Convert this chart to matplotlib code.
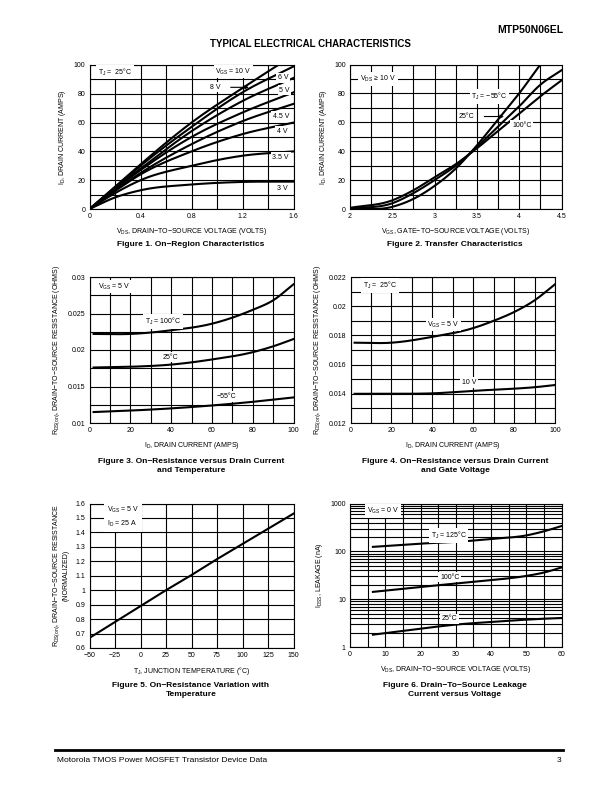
import numpy as np
import matplotlib
matplotlib.use("Agg")
import matplotlib.pyplot as plt

plt.rcParams['font.family'] = ['Liberation Sans', 'DejaVu Sans']
plt.rcParams['mathtext.fontset'] = 'custom'
plt.rcParams['mathtext.rm'] = 'Liberation Sans'
plt.rcParams['mathtext.it'] = 'Liberation Sans'
plt.rcParams['mathtext.default'] = 'regular'

# Figure 1: on-region characteristics (VDS in volts, ID in amps)
vds_pts = [0, 0.2, 0.4, 0.8, 1.2, 1.6]
id_3v = [0, 8, 13, 17, 18.8, 19]
id_35v = [0, 11, 20, 30, 37, 40]
id_4v = [0, 12.5, 24, 40, 52, 60]
id_45v = [0, 13, 25, 45, 61, 73]
id_5v = [0, 14, 27, 50, 67, 81]
id_6v = [0, 14.5, 28, 54, 75, 91]
id_8v = [0, 15, 30, 57, 81, 99]
vds_10v = [0, 0.2, 0.4, 0.8, 1.2, 1.48]
id_10v = [0, 15.5, 31, 60, 84, 100]

# Figure 2: transfer characteristics
vgs_m55 = [2, 2.5, 2.75, 3, 3.25, 3.5, 3.75, 4, 4.25]
id_m55 = [0, 1.5, 7, 16, 28, 44, 62, 80, 100]
vgs_t = [2, 2.5, 2.75, 3, 3.25, 3.5, 3.75, 4, 4.25, 4.5]
id_25 = [0.3, 4, 11, 20, 30, 43, 57, 71, 86, 96]
id_100 = [0.8, 6, 13, 22, 31, 42, 54, 66, 78, 89]

# Figure 3: RDS(on) vs ID and temperature
id_f3 = [2, 20, 40, 60, 80, 90, 100]
rds_100c = [0.0222, 0.0222, 0.0227, 0.0236, 0.0255, 0.0268, 0.029]
rds_25c = [0.0176, 0.0177, 0.0180, 0.0187, 0.0197, 0.0205, 0.0215]
rds_m55c = [0.0115, 0.0117, 0.0120, 0.0124, 0.0129, 0.0132, 0.0135]

# Figure 4: RDS(on) vs ID and gate voltage
id_f4 = [2, 20, 40, 60, 70, 80, 90, 100]
rds_5v = [0.0175, 0.0175, 0.0179, 0.0185, 0.0190, 0.0196, 0.0204, 0.0215]
rds_10v = [0.0140, 0.0140, 0.01403, 0.0142, 0.01428, 0.01435, 0.01445, 0.0146]

# Figure 5: normalized RDS(on) vs temperature
tj = [-50, -25, 0, 25, 50, 75, 100, 125, 150]
rds_norm = [0.67, 0.78, 0.89, 1.0, 1.105, 1.215, 1.32, 1.425, 1.53]

# Figure 6: IDSS leakage vs VDS
vds_f6 = [6.5, 20, 30, 40, 50, 55, 60]
idss_125 = [124, 145, 157, 182, 215, 262, 338]
idss_100 = [14.2, 18, 21.2, 24.9, 30.6, 36, 46]
idss_25 = [1.81, 2.42, 2.94, 3.34, 3.73, 3.9, 4.04]

W, H = 612, 792
fig = plt.figure(figsize=(W / 100, H / 100), dpi=100)


def box(l, r, t, b):
    return [l / W, 1 - b / H, (r - l) / W, (b - t) / H]


def smooth(x, y, n=200):
    # cubic hermite through the read points, just to draw a smooth curve
    x = np.asarray(x, float)
    y = np.asarray(y, float)
    m = np.gradient(y, x)
    xs = np.linspace(x[0], x[-1], n)
    i = np.clip(np.searchsorted(x, xs) - 1, 0, len(x) - 2)
    h = x[i + 1] - x[i]
    t = (xs - x[i]) / h
    ys = ((2 * t**3 - 3 * t**2 + 1) * y[i] + (t**3 - 2 * t**2 + t) * h * m[i]
          + (-2 * t**3 + 3 * t**2) * y[i + 1] + (t**3 - t**2) * h * m[i + 1])
    return xs, ys


def setup(ax, xlim, ylim, xgrid, ygrid, xticks, yticks, xtl=None, ytl=None):
    ax.set_xlim(*xlim)
    ax.set_ylim(*ylim)
    for x in xgrid:
        ax.axvline(x, color='black', lw=0.8, zorder=1)
    for y in ygrid:
        ax.axhline(y, color='black', lw=0.8, zorder=1)
    ax.set_xticks(xticks)
    ax.set_yticks(yticks)
    if xtl is not None:
        ax.set_xticklabels(xtl)
    if ytl is not None:
        ax.set_yticklabels(ytl)
    ax.tick_params(length=0, labelsize=5, pad=3)
    for s in ax.spines.values():
        s.set_linewidth(0.8)


def lbl(ax, x, y, s, ha='center', fs=5):
    ax.text(x, y, s, ha=ha, va='center', fontsize=fs, zorder=5,
            bbox=dict(facecolor='white', edgecolor='none', pad=1.2))


def arrow_lbl(ax, s, xy, xytext):
    ax.annotate(s, xy=xy, xytext=xytext, fontsize=5, va='center', ha='center',
                arrowprops=dict(arrowstyle='-|>', color='black', lw=0.8, shrinkA=6, shrinkB=0,
                                mutation_scale=5), zorder=5,
                bbox=dict(facecolor='white', edgecolor='none', pad=1))


LW = 1.5

# ---- Figure 1
ax1 = fig.add_axes(box(89.5, 293.5, 65, 209))
setup(ax1, (0, 1.6), (0, 100), np.arange(0, 1.61, 0.2), range(0, 101, 10),
      [0, 0.4, 0.8, 1.2, 1.6], range(0, 101, 20), ['0', '0.4', '0.8', '1.2', '1.6'])
for ys in [id_3v, id_35v, id_4v, id_45v, id_5v, id_6v, id_8v]:
    ax1.plot(*smooth(vds_pts, ys), color='black', lw=LW, zorder=3)
ax1.plot(*smooth(vds_10v, id_10v), color='black', lw=LW, zorder=3)
lbl(ax1, 0.2, 95, 'T$_J$ =  25°C')
lbl(ax1, 1.13, 95.5, 'V$_{GS}$ = 10 V')
arrow_lbl(ax1, '8 V', (1.25, 84.5), (0.99, 84.5))
lbl(ax1, 1.52, 91, '6 V')
lbl(ax1, 1.53, 82.5, '5 V')
lbl(ax1, 1.5, 64.5, '4.5 V')
lbl(ax1, 1.51, 54, '4 V')
lbl(ax1, 1.5, 36, '3.5 V')
lbl(ax1, 1.51, 14.5, '3 V')
ax1.set_xlabel('V$_{DS}$, DRAIN−TO−SOURCE VOLTAGE (VOLTS)', fontsize=5, labelpad=4)
ax1.set_ylabel('I$_D$, DRAIN CURRENT (AMPS)', fontsize=5, labelpad=4)

# ---- Figure 2
ax2 = fig.add_axes(box(350, 561.5, 64.5, 209))
setup(ax2, (2, 4.5), (0, 100), np.arange(2, 4.51, 0.25), range(0, 101, 10),
      [2, 2.5, 3, 3.5, 4, 4.5], range(0, 101, 20), ['2', '2.5', '3', '3.5', '4', '4.5'])
for xv, yv in [(vgs_m55, id_m55), (vgs_t, id_25), (vgs_t, id_100)]:
    ax2.plot(*smooth(xv, yv), color='black', lw=LW, zorder=3)
lbl(ax2, 2.33, 90, 'V$_{DS}$ ≥ 10 V')
lbl(ax2, 3.65, 78, 'T$_J$ = −55°C')
arrow_lbl(ax2, '25°C', (3.82, 64), (3.38, 64))
lbl(ax2, 4.03, 58, '100°C')
ax2.set_xlabel('V$_{GS}$, GATE−TO−SOURCE VOLTAGE (VOLTS)', fontsize=5, labelpad=4)
ax2.set_ylabel('I$_D$, DRAIN CURRENT (AMPS)', fontsize=5, labelpad=4)

# ---- Figure 3
ax3 = fig.add_axes(box(89.5, 293.5, 277, 423))
setup(ax3, (0, 100), (0.01, 0.03), range(0, 101, 10), np.arange(0.01, 0.0301, 0.0025),
      range(0, 101, 20), [0.01, 0.015, 0.02, 0.025, 0.03],
      None, ['0.01', '0.015', '0.02', '0.025', '0.03'])
for yv in [rds_100c, rds_25c, rds_m55c]:
    ax3.plot(*smooth(id_f3, yv), color='black', lw=LW, zorder=3)
lbl(ax3, 12, 0.0287, 'V$_{GS}$ = 5 V')
lbl(ax3, 36, 0.0239, 'T$_J$ = 100°C')
lbl(ax3, 39.5, 0.0190, '25°C')
lbl(ax3, 67, 0.01364, '−55°C')
ax3.set_xlabel('I$_D$, DRAIN CURRENT (AMPS)', fontsize=5, labelpad=4)
ax3.set_ylabel('R$_{DS(on)}$, DRAIN−TO−SOURCE RESISTANCE (OHMS)', fontsize=5, labelpad=4)

# ---- Figure 4
ax4 = fig.add_axes(box(350.5, 555, 277, 423))
setup(ax4, (0, 100), (0.012, 0.022), range(0, 101, 10), np.arange(0.012, 0.02201, 0.001),
      range(0, 101, 20), [0.012, 0.014, 0.016, 0.018, 0.02, 0.022],
      None, ['0.012', '0.014', '0.016', '0.018', '0.02', '0.022'])
for yv in [rds_5v, rds_10v]:
    ax4.plot(*smooth(id_f4, yv), color='black', lw=LW, zorder=3)
lbl(ax4, 14.5, 0.0214, 'T$_J$ =  25°C')
lbl(ax4, 45.5, 0.01874, 'V$_{GS}$ = 5 V')
lbl(ax4, 58, 0.01478, '10 V')
ax4.set_xlabel('I$_D$, DRAIN CURRENT (AMPS)', fontsize=5, labelpad=4)
ax4.set_ylabel('R$_{DS(on)}$, DRAIN−TO−SOURCE RESISTANCE (OHMS)', fontsize=5, labelpad=4)

# ---- Figure 5
ax5 = fig.add_axes(box(89.5, 293.5, 503.5, 648))
setup(ax5, (-50, 150), (0.6, 1.6), range(-50, 151, 25), np.arange(0.6, 1.601, 0.1),
      range(-50, 151, 25), np.arange(0.6, 1.601, 0.1),
      ['−50', '−25', '0', '25', '50', '75', '100', '125', '150'],
      ['0.6', '0.7', '0.8', '0.9', '1', '1.1', '1.2', '1.3', '1.4', '1.5', '1.6'])
ax5.plot(tj, rds_norm, color='black', lw=LW, zorder=3)
ax5.text(-33, 1.508, 'V$_{GS}$ = 5 V\nI$_D$ = 25 A', ha='left', va='center', fontsize=5,
         linespacing=1.6, zorder=5, bbox=dict(facecolor='white', edgecolor='none', pad=2))
ax5.set_xlabel('T$_J$, JUNCTION TEMPERATURE (°C)', fontsize=5, labelpad=4)
ax5.set_ylabel('R$_{DS(on)}$, DRAIN−TO−SOURCE RESISTANCE\n(NORMALIZED)', fontsize=5, labelpad=4)

# ---- Figure 6
ax6 = fig.add_axes(box(350, 561.5, 503.5, 647))
ax6.set_yscale('log')
ygrid6 = [m * 10 ** d for d in range(0, 3) for m in range(1, 10)] + [1000]
setup(ax6, (0, 60), (1, 1000), range(0, 61, 5), ygrid6,
      range(0, 61, 10), [1, 10, 100, 1000], None, ['1', '10', '100', '1000'])
ax6.minorticks_off()
for yv in [idss_125, idss_100, idss_25]:
    xs, ly = smooth(vds_f6, np.log10(yv))
    ax6.plot(xs, 10 ** ly, color='black', lw=LW, zorder=3)
lbl(ax6, 9.4, 690, 'V$_{GS}$ = 0 V')
lbl(ax6, 28, 215, 'T$_J$ = 125°C')
lbl(ax6, 28.3, 29, '100°C')
lbl(ax6, 28.3, 3.9, '25°C')
ax6.set_xlabel('V$_{DS}$, DRAIN−TO−SOURCE VOLTAGE (VOLTS)', fontsize=5, labelpad=4)
ax6.set_ylabel('I$_{DSS}$, LEAKAGE (nA)', fontsize=5, labelpad=4)

# ---- page text
fig.text(563 / W, 1 - 30 / H, 'MTP50N06EL', ha='right', va='center', fontsize=7.5, fontweight='heavy')
fig.text(310 / W, 1 - 44 / H, 'TYPICAL ELECTRICAL CHARACTERISTICS', ha='center', va='center',
         fontsize=7, fontweight='bold')
caps = [(191, 245, 'Figure 1. On−Region Characteristics'),
        (455, 245, 'Figure 2. Transfer Characteristics'),
        (191, 466, 'Figure 3. On−Resistance versus Drain Current\nand Temperature'),
        (455, 466, 'Figure 4. On−Resistance versus Drain Current\nand Gate Voltage'),
        (191, 690, 'Figure 5. On−Resistance Variation with\nTemperature'),
        (455, 690, 'Figure 6. Drain−To−Source Leakage\nCurrent versus Voltage')]
for x, y, s in caps:
    fig.text(x / W, 1 - y / H, s, ha='center', va='center', fontsize=6, fontweight='bold',
             linespacing=1.3)
fig.add_artist(plt.Line2D([55 / W, 563 / W], [1 - 750 / H, 1 - 750 / H], color='black', lw=2))
fig.text(57 / W, 1 - 760 / H, 'Motorola TMOS Power MOSFET Transistor Device Data', ha='left',
         va='center', fontsize=6)
fig.text(561 / W, 1 - 760 / H, '3', ha='right', va='center', fontsize=6)

fig.savefig('out.png', dpi=100)
